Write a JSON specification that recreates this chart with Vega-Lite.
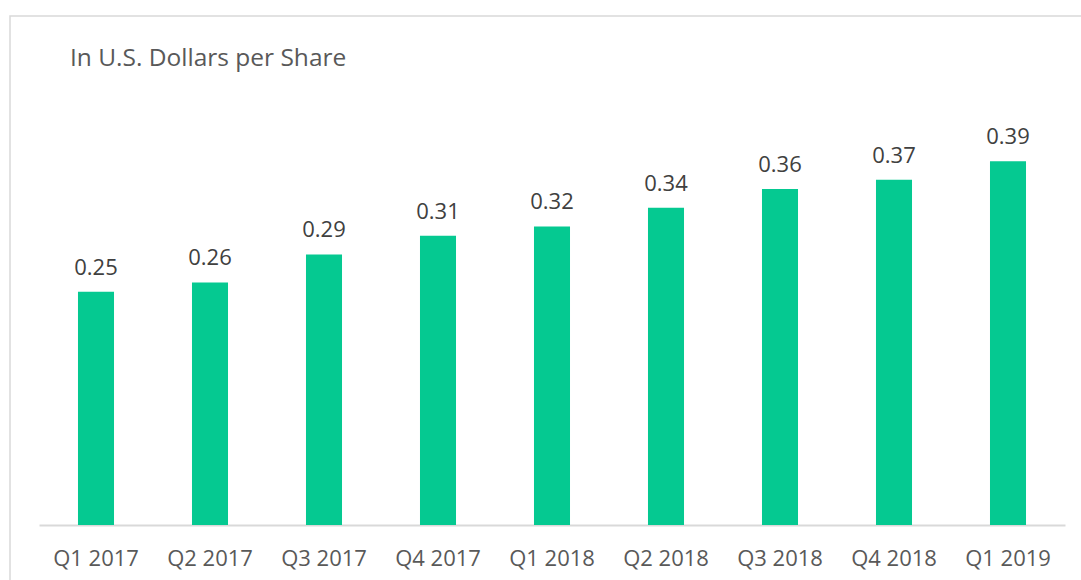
{
  "$schema": "https://vega.github.io/schema/vega-lite/v6.json",
  "autosize": {"type": "none"},
  "padding": {"left": 10, "top": 16, "right": 0, "bottom": 0},
  "width": 1080,
  "height": 575,
  "background": "white",
  "config": {
    "view": {"stroke": "#d9d9d9", "strokeWidth": 1.5},
    "font": "Open Sans"
  },
  "title": {
    "text": "In U.S. Dollars per Share",
    "anchor": "start",
    "frame": "group",
    "orient": "top",
    "baseline": "alphabetic",
    "offset": -74,
    "dx": 60,
    "fontSize": 24.5,
    "fontWeight": "normal",
    "color": "#595959",
    "font": "Open Sans"
  },
  "data": {
    "values": [
      {"quarter": "Q1 2017", "value": 0.25},
      {"quarter": "Q2 2017", "value": 0.26},
      {"quarter": "Q3 2017", "value": 0.29},
      {"quarter": "Q4 2017", "value": 0.31},
      {"quarter": "Q1 2018", "value": 0.32},
      {"quarter": "Q2 2018", "value": 0.34},
      {"quarter": "Q3 2018", "value": 0.36},
      {"quarter": "Q4 2018", "value": 0.37},
      {"quarter": "Q1 2019", "value": 0.39}
    ]
  },
  "encoding": {
    "x": {
      "field": "quarter",
      "type": "nominal",
      "sort": null,
      "scale": {"range": [29, 1055], "paddingInner": 0.684, "paddingOuter": 0.342},
      "axis": {
        "title": null,
        "orient": "bottom",
        "offset": -66,
        "labelAngle": 0,
        "ticks": false,
        "domainColor": "#d9d9d9",
        "domainWidth": 2,
        "labelFontSize": 22,
        "labelColor": "#595959",
        "labelPadding": 23,
        "labelFont": "Open Sans"
      }
    },
    "y": {
      "field": "value",
      "type": "quantitative",
      "scale": {"domain": [0, 0.5], "range": [509, 42.5], "nice": false, "zero": true},
      "axis": null
    }
  },
  "layer": [
    {"mark": {"type": "bar", "color": "#05C991"}},
    {
      "mark": {"type": "text", "baseline": "alphabetic", "dy": -17, "fontSize": 22, "color": "#404040", "font": "Open Sans"},
      "encoding": {"text": {"field": "value", "type": "quantitative", "format": ".2f"}}
    }
  ]
}
